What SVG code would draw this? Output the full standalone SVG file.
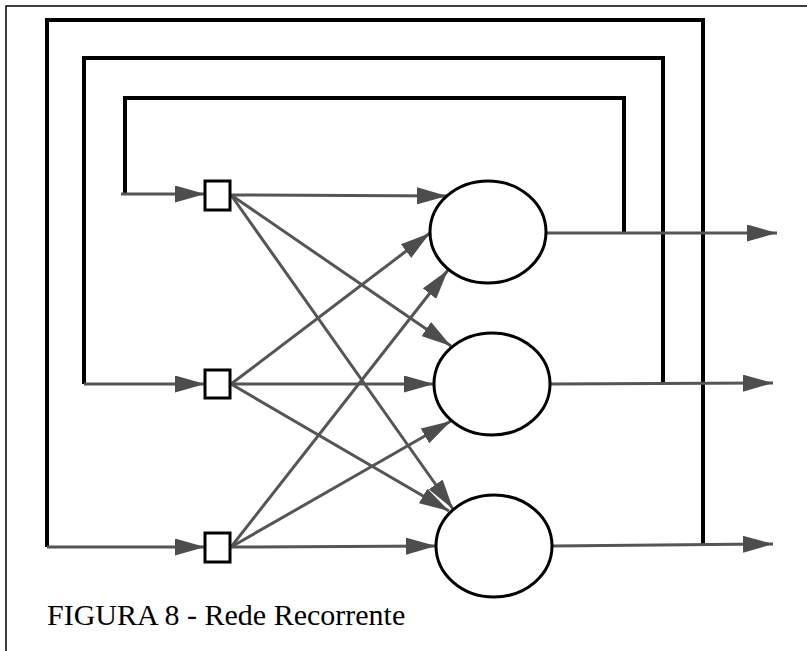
<svg xmlns="http://www.w3.org/2000/svg" width="807" height="651" viewBox="0 0 807 651">
  <style>
    .frame { stroke: #000; stroke-width: 1.5; fill: none; }
    .loop { stroke: #000; stroke-width: 4; fill: none; stroke-linejoin: miter; }
    .sig { stroke: #555; stroke-width: 3; fill: none; }
    .arr { marker-end: url(#head); }
    .unit { fill: #fff; stroke: #000; stroke-width: 3; }
    .neuron { fill: #fff; stroke: #000; stroke-width: 3; }
    .caption { font-family: "Liberation Serif", "Times New Roman", serif; font-size: 30px; fill: #000; }
  </style>
  <defs>
    <marker id="head" viewBox="0 0 30 17" refX="30" refY="8.5" markerWidth="30" markerHeight="17" markerUnits="userSpaceOnUse" orient="auto">
      <path d="M0,0 L30,8.5 L0,17 z" fill="#4d4d4d"/>
    </marker>
  </defs>

  <rect width="807" height="651" fill="#fff"/>
  <!-- cell frame: top and left rules -->
  <path class="frame" d="M6,651 L6,6 L807,6"/>

  <g id="connectors">
    <!-- recurrent feedback loops -->
    <path class="loop" d="M125,194 L125,98 L624,98 L624,234"/>
    <path class="loop" d="M84,384 L84,58 L663,58 L663,384"/>
    <path class="loop" d="M47,547 L47,20 L703,20 L703,546"/>

    <!-- inputs into the units -->
    <path class="sig arr" d="M121,194 L205,194"/>
    <path class="sig arr" d="M84,384 L205,384"/>
    <path class="sig arr" d="M47,547 L205,547"/>

    <!-- unit 1 to neurons -->
    <path class="sig arr" d="M231,195 L447,196"/>
    <path class="sig arr" d="M231,195 L451,346"/>
    <path class="sig arr" d="M231,195 L453,509"/>
    <!-- unit 2 to neurons -->
    <path class="sig arr" d="M231,384 L430,233"/>
    <path class="sig arr" d="M231,384 L434,384"/>
    <path class="sig arr" d="M231,384 L449,511"/>
    <!-- unit 3 to neurons -->
    <path class="sig arr" d="M231,547 L448,270"/>
    <path class="sig arr" d="M231,547 L451,421"/>
    <path class="sig arr" d="M231,547 L436,546"/>

    <!-- outputs -->
    <path class="sig arr" d="M547,233 L777,233"/>
    <path class="sig arr" d="M550,384 L773,383"/>
    <path class="sig arr" d="M552,546 L773,544"/>
  </g>

  <g id="unit1"><rect class="unit" x="205" y="181" width="25" height="29"/></g>
  <g id="unit2"><rect class="unit" x="205" y="370" width="25" height="28"/></g>
  <g id="unit3"><rect class="unit" x="205" y="533" width="25" height="29"/></g>

  <g id="neuron1"><ellipse class="neuron" cx="488" cy="232" rx="58" ry="51"/></g>
  <g id="neuron2"><ellipse class="neuron" cx="492" cy="384" rx="58" ry="51"/></g>
  <g id="neuron3"><ellipse class="neuron" cx="494" cy="546" rx="58" ry="51"/></g>

  <g id="caption"><text class="caption" x="47" y="625">FIGURA 8 - Rede Recorrente</text></g>
</svg>
